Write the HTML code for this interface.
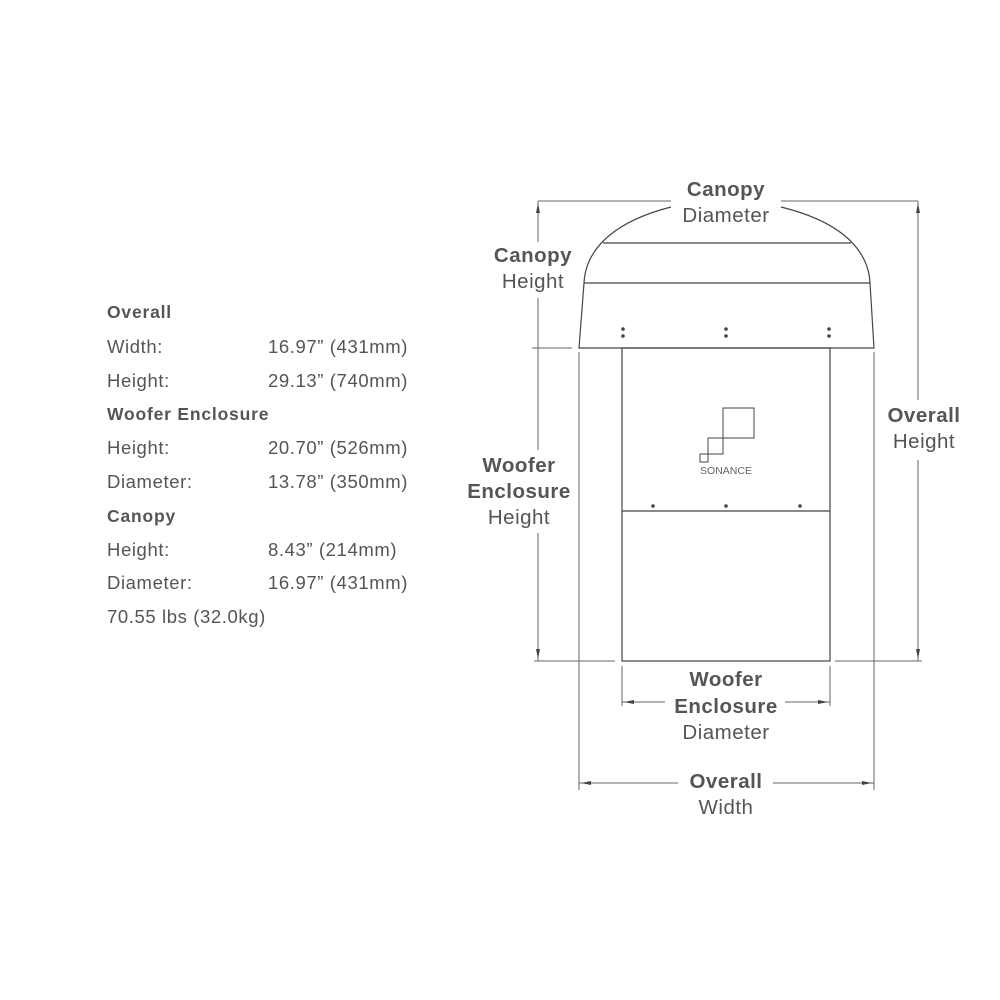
<!DOCTYPE html>
<html><head><style>body{margin:0;background:#fff}svg{display:block}</style></head><body>
<svg width="1000" height="1000" viewBox="0 0 1000 1000" xmlns="http://www.w3.org/2000/svg" font-family="Liberation Sans, sans-serif">
<g fill="#555" font-size="18.5" letter-spacing="0.6">
<text x="107" y="318" font-weight="bold" font-size="17.5" letter-spacing="0.8">Overall</text>
<text x="107" y="353">Width:</text><text x="268" y="353">16.97” (431mm)</text>
<text x="107" y="387">Height:</text><text x="268" y="387">29.13” (740mm)</text>
<text x="107" y="420" font-weight="bold" font-size="17.5" letter-spacing="0.8">Woofer Enclosure</text>
<text x="107" y="454">Height:</text><text x="268" y="454">20.70” (526mm)</text>
<text x="107" y="488">Diameter:</text><text x="268" y="488">13.78” (350mm)</text>
<text x="107" y="522" font-weight="bold" font-size="17.5" letter-spacing="0.8">Canopy</text>
<text x="107" y="556">Height:</text><text x="268" y="556">8.43” (214mm)</text>
<text x="107" y="589">Diameter:</text><text x="268" y="589">16.97” (431mm)</text>
<text x="107" y="623">70.55 lbs (32.0kg)</text>
</g>
<g stroke="#444" stroke-width="1.2" fill="none">
<path d="M584,283 C586,245 620,220 671,207"/>
<path d="M870,283 C868,245 834,220 781,207"/>
<line x1="603" y1="243" x2="851" y2="243"/>
<line x1="584" y1="283" x2="870" y2="283"/>
<path d="M584,283 L579,348 L874,348 L870,283"/>
<rect x="622" y="348" width="208" height="313"/>
<line x1="622" y1="511" x2="830" y2="511"/>
<g stroke-width="1">
<rect x="723" y="408" width="31" height="30"/>
<rect x="708" y="438" width="15" height="16"/>
<rect x="700" y="454" width="8" height="8"/>
</g>
</g>
<g stroke="#666" stroke-width="1" fill="none">
<line x1="538" y1="201" x2="671" y2="201"/><line x1="781" y1="201" x2="918" y2="201"/>
<line x1="538" y1="201" x2="538" y2="242"/><line x1="538" y1="298" x2="538" y2="450"/><line x1="538" y1="533" x2="538" y2="661"/>
<line x1="532" y1="348" x2="572" y2="348"/>
<line x1="918" y1="201" x2="918" y2="400"/><line x1="918" y1="460" x2="918" y2="661"/>
<line x1="534" y1="661" x2="615" y2="661"/><line x1="835" y1="661" x2="922" y2="661"/>
<line x1="579" y1="352" x2="579" y2="790"/><line x1="874" y1="352" x2="874" y2="790"/>
<line x1="622" y1="666" x2="622" y2="706"/><line x1="830" y1="666" x2="830" y2="706"/>
<line x1="622" y1="702" x2="665" y2="702"/><line x1="785" y1="702" x2="830" y2="702"/>
<line x1="579" y1="783" x2="678" y2="783"/><line x1="773" y1="783" x2="874" y2="783"/>
</g>
<g fill="#444">
<circle cx="623" cy="329" r="1.8"/><circle cx="623" cy="336" r="1.8"/>
<circle cx="726" cy="329" r="1.8"/><circle cx="726" cy="336" r="1.8"/>
<circle cx="829" cy="329" r="1.8"/><circle cx="829" cy="336" r="1.8"/>
<circle cx="653" cy="506" r="1.8"/><circle cx="726" cy="506" r="1.8"/><circle cx="800" cy="506" r="1.8"/>
<path d="M538,203l-2,10h4zM538,659l-2,-10h4zM918,203l-2,10h4zM918,659l-2,-10h4zM624,702l10,-2v4zM828,702l-10,-2v4zM581,783l10,-2v4zM872,783l-10,-2v4z"/>
</g>
<text x="726" y="474" text-anchor="middle" font-size="10.5" fill="#666">SONANCE</text>
<g fill="#555" font-size="20.5" text-anchor="middle" letter-spacing="0.5">
<text x="726" y="196" font-weight="bold">Canopy</text><text x="726" y="222">Diameter</text>
<text x="533" y="262" font-weight="bold">Canopy</text><text x="533" y="288">Height</text>
<text x="924" y="422" font-weight="bold">Overall</text><text x="924" y="448">Height</text>
<text x="519" y="472" font-weight="bold">Woofer</text><text x="519" y="498" font-weight="bold">Enclosure</text><text x="519" y="524">Height</text>
<text x="726" y="686" font-weight="bold">Woofer</text><text x="726" y="713" font-weight="bold">Enclosure</text><text x="726" y="739">Diameter</text>
<text x="726" y="788" font-weight="bold">Overall</text><text x="726" y="814">Width</text>
</g>
</svg>
</body></html>
